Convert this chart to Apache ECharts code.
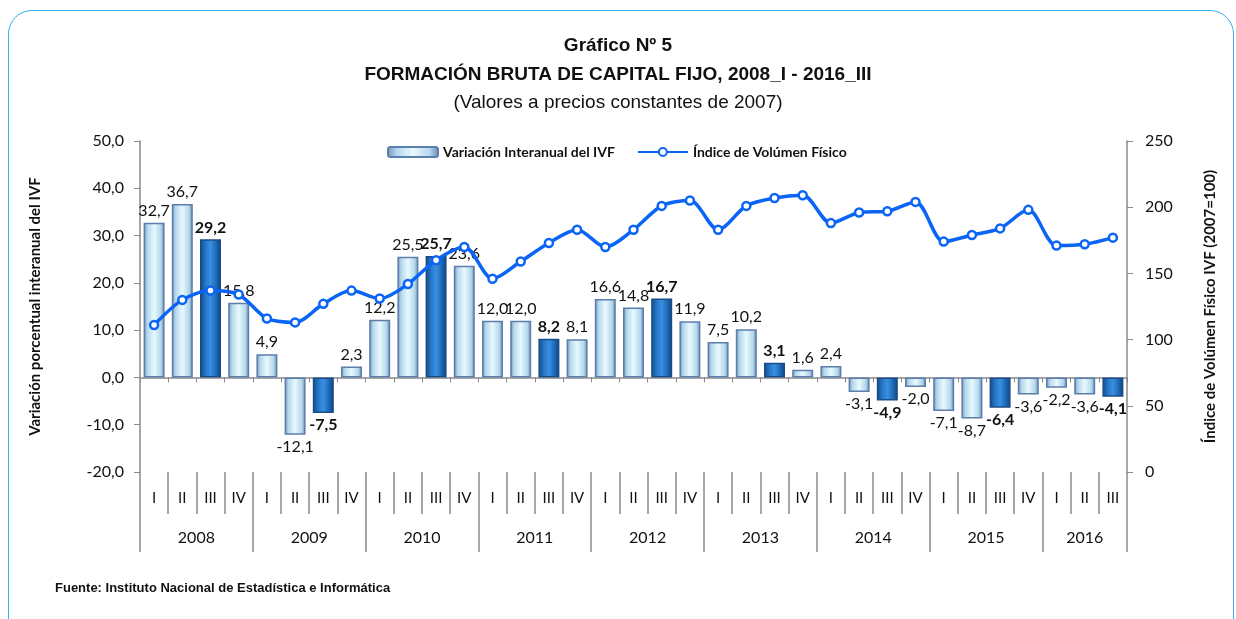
<!DOCTYPE html>
<html>
<head>
<meta charset="utf-8">
<script src="https://cdn.jsdelivr.net/npm/echarts@6/dist/echarts.min.js"></script>
<style>
  html, body { margin: 0; padding: 0; background: #fff; }
  #frame {
    position: absolute; left: 8px; top: 10px; width: 1226px; height: 660px;
    border: 1.5px solid #39aef0; border-radius: 24px; box-sizing: border-box;
  }
  #chart { position: absolute; left: 0; top: 0; width: 1236px; height: 619px; }
</style>
</head>
<body>
<div id="frame"></div>
<div id="chart"></div>
<script>
// años y trimestres
const years = ["2008", "2009", "2010", "2011", "2012", "2013", "2014", "2015", "2016"];
const quartersPerYear = [4, 4, 4, 4, 4, 4, 4, 4, 3];
const quarterNames = ["I", "II", "III", "IV"];

// Variación interanual del IVF (%)
const variacion = [
  32.7, 36.7, 29.2, 15.8,
  4.9, -12.1, -7.5, 2.3,
  12.2, 25.5, 25.7, 23.6,
  12.0, 12.0, 8.2, 8.1,
  16.6, 14.8, 16.7, 11.9,
  7.5, 10.2, 3.1, 1.6,
  2.4, -3.1, -4.9, -2.0,
  -7.1, -8.7, -6.4, -3.6,
  -2.2, -3.6, -4.1
];

// Índice de Volúmen Físico (2007=100)
const indice = [
  111, 130, 137, 134,
  116, 113, 127, 137,
  131, 142, 160, 170,
  146, 159, 173, 183,
  170, 183, 201, 205,
  183, 201, 207, 209,
  188, 196, 197, 204,
  174, 179, 184, 198,
  171, 172, 177
];

let quarterLabels = [];
let isThird = [];
years.forEach((y, i) => {
  for (let q = 0; q < quartersPerYear[i]; q++) {
    quarterLabels.push(quarterNames[q]);
    isThird.push(q === 2);
  }
});

// eje de años: medios pasos para centrar cada año en su grupo
let yearHalf = [];
let yearBounds = {};
let pos = 0;
yearBounds[0] = true;
for (let i = 0; i < years.length; i++) {
  pos += quartersPerYear[i] * 2;
  yearBounds[pos] = true;
}
for (let k = 0; k <= pos; k++) yearHalf.push("");
let start = 0;
years.forEach((y, i) => {
  yearHalf[start + quartersPerYear[i]] = y;
  start += quartersPerYear[i] * 2;
});

const fmt = v => v.toFixed(1).replace(".", ",");
const lightBar = new echarts.graphic.LinearGradient(0, 0, 1, 0, [
  { offset: 0, color: "#6f8fb6" },
  { offset: 0.18, color: "#b4d8ec" },
  { offset: 0.5, color: "#e8f9fe" },
  { offset: 0.82, color: "#b4d8ec" },
  { offset: 1, color: "#6885ad" }
]);
const darkBar = new echarts.graphic.LinearGradient(0, 0, 1, 0, [
  { offset: 0, color: "#0e4a8d" },
  { offset: 0.3, color: "#2a7ccd" },
  { offset: 0.5, color: "#3a8fe0" },
  { offset: 0.7, color: "#2474c4" },
  { offset: 1, color: "#0c4383" }
]);

let barData = variacion.map((v, i) => ({
  value: v,
  itemStyle: {
    color: isThird[i] ? darkBar : lightBar,
    borderColor: isThird[i] ? "#1b4c86" : "#5d7eaa",
    borderWidth: 1.5
  },
  label: {
    show: true,
    position: v >= 0 ? "top" : "bottom",
    fontWeight: isThird[i] ? "bold" : "normal"
  }
}));

const font = "Lato, 'Open Sans', sans-serif";
const titleFont = "'Liberation Sans Narrow', 'Liberation Sans', Arial, sans-serif";

let chart = echarts.init(document.getElementById("chart"));
let option = {
  animation: false,
  textStyle: { fontFamily: font },
  title: [
    { text: "Gráfico Nº 5", left: "center", top: 31,
      textStyle: { fontFamily: titleFont, fontSize: 19, fontWeight: "bold", color: "#111" } },
    { text: "FORMACIÓN BRUTA DE CAPITAL FIJO, 2008_I - 2016_III", left: "center", top: 60,
      textStyle: { fontFamily: titleFont, fontSize: 19, fontWeight: "bold", color: "#111" } },
    { text: "(Valores a precios constantes de 2007)", left: "center", top: 88,
      textStyle: { fontFamily: titleFont, fontSize: 19, fontWeight: "normal", color: "#111" } },
    { text: "Fuente: Instituto Nacional de Estadística e Informática", left: 50, top: 577,
      textStyle: { fontFamily: "'Liberation Sans', Arial, sans-serif", fontSize: 13, fontWeight: "bold", color: "#111" } }
  ],
  legend: {
    top: 140,
    left: 382,
    itemWidth: 50,
    itemHeight: 10,
    itemGap: 22,
    textStyle: { fontFamily: font, fontSize: 14, fontWeight: "bold", color: "#111" },
    data: ["Variación Interanual del IVF", "Índice de Volúmen Físico"]
  },
  grid: { left: 140, right: 109, top: 141, bottom: 147 },
  xAxis: [
    {
      type: "category",
      data: quarterLabels,
      position: "bottom",
      axisLine: { onZero: true, onZeroAxisIndex: 0, lineStyle: { color: "#8a8a8a", width: 1.5 } },
      axisTick: { show: true, length: 5, lineStyle: { color: "#8a8a8a" } },
      axisLabel: { show: false }
    },
    {
      type: "category",
      data: quarterLabels,
      position: "bottom",
      axisLine: { show: false, onZero: false },
      axisTick: { show: true, length: 42, lineStyle: { color: "#8a8a8a", width: 1.5 } },
      axisLabel: { margin: 19, fontSize: 15, color: "#111", fontFamily: font, interval: 0 }
    },
    {
      type: "category",
      data: yearHalf,
      boundaryGap: false,
      position: "bottom",
      offset: 40,
      axisLine: { show: false, onZero: false },
      axisTick: { show: true, length: 40, interval: idx => !!yearBounds[idx],
        lineStyle: { color: "#8a8a8a", width: 1.5 } },
      axisLabel: { margin: 18, fontSize: 16, color: "#111", fontFamily: font, interval: 0 }
    }
  ],
  yAxis: [
    {
      type: "value",
      min: -20, max: 50, interval: 10,
      name: "Variación porcentual interanual del IVF",
      nameLocation: "middle",
      nameRotate: 90,
      nameGap: 97,
      nameTextStyle: { fontFamily: font, fontSize: 15, fontWeight: "bold", color: "#111" },
      axisLine: { show: true, lineStyle: { color: "#8a8a8a", width: 1.5 } },
      axisTick: { show: true, length: 6, lineStyle: { color: "#8a8a8a" } },
      splitLine: { show: false },
      axisLabel: { formatter: v => fmt(v), fontSize: 16, color: "#111", margin: 16 }
    },
    {
      type: "value",
      min: 0, max: 250, interval: 50,
      name: "Índice de Volúmen Físico IVF (2007=100)",
      nameLocation: "middle",
      nameRotate: 90,
      nameGap: 76,
      nameTextStyle: { fontFamily: font, fontSize: 15, fontWeight: "bold", color: "#111" },
      axisLine: { show: true, lineStyle: { color: "#8a8a8a", width: 1.5 } },
      axisTick: { show: true, length: 6, lineStyle: { color: "#8a8a8a" } },
      splitLine: { show: false },
      axisLabel: { fontSize: 16, color: "#111", margin: 18 }
    }
  ],
  series: [
    {
      name: "Variación Interanual del IVF",
      type: "bar",
      xAxisIndex: 0,
      yAxisIndex: 0,
      barWidth: 21,
      itemStyle: { color: lightBar, borderColor: "#5d7eaa", borderWidth: 1.5 },
      label: { fontSize: 16, color: "#111", distance: 4, formatter: p => fmt(p.value) },
      data: barData
    },
    {
      name: "Índice de Volúmen Físico",
      type: "line",
      xAxisIndex: 0,
      yAxisIndex: 1,
      smooth: 0.3,
      symbol: "circle",
      symbolSize: 8,
      lineStyle: { color: "#0a64f5", width: 3.5 },
      itemStyle: { color: "#fff", borderColor: "#0a64f5", borderWidth: 2.5 },
      data: indice,
      z: 5
    }
  ]
};
chart.setOption(option);
</script>
</body>
</html>
